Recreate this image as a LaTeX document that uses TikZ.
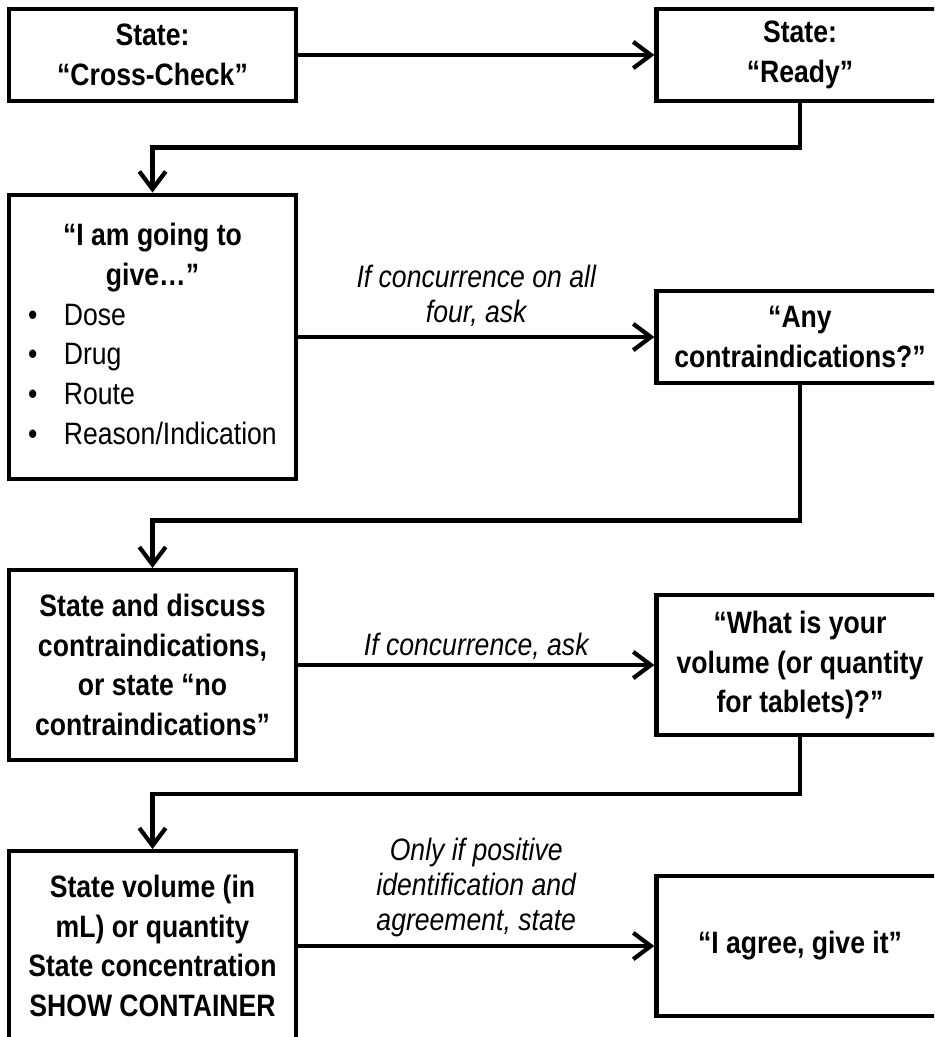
\documentclass[tikz,border=0pt]{standalone}
\usepackage{fontspec}
\setmainfont[FakeStretch=0.86]{Liberation Sans}
\usetikzlibrary{arrows.meta}

\begin{document}
\begin{tikzpicture}[x=0.02cm, y=-0.02cm,
    box/.style={draw, line width=2.5pt, minimum width=5.74cm, inner sep=2pt,
                align=center, font=\fontsize{17.6}{22.6}\selectfont\bfseries},
    arr/.style={-{Straight Barb[length=10pt,width=15pt]}, line width=2.4pt},
    lbl/.style={align=center, inner sep=2pt,
                font=\fontsize{17.6}{19.8}\selectfont\itshape}
  ]
  \clip (0,0) rectangle (934,1037);
  % left column
  \node[box, minimum height=1.85cm] (cross) at (152.5,55) {State:\\“Cross-Check”};
  \node[box, minimum height=5.69cm] (give) at (152.5,337) {%
    \begin{tabular}{@{}c@{\hspace{15pt}}l@{}}
      \multicolumn{2}{c}{“I am going to}\\
      \multicolumn{2}{c}{give…”}\\
      \mdseries\textbullet & \mdseries Dose\\
      \mdseries\textbullet & \mdseries Drug\\
      \mdseries\textbullet & \mdseries Route\\
      \mdseries\textbullet & \mdseries Reason/Indication
    \end{tabular}};
  \node[box, minimum height=3.79cm] (discuss) at (152.5,665)
    {State and discuss\\contraindications,\\or state “no\\contraindications”};
  \node[box, minimum height=3.79cm] (show) at (152.5,946)
    {State volume (in\\mL) or quantity\\State concentration\\SHOW CONTAINER};
  % right column
  \node[box, minimum height=1.85cm] (ready) at (800,55) {State:\\“Ready”};
  \node[box, minimum height=1.85cm] (any) at (800,337) {“Any\\contraindications?”};
  \node[box, minimum height=2.79cm] (volume) at (800,665)
    {“What is your\\volume (or quantity\\for tablets)?”};
  \node[box, minimum height=2.79cm] (agree) at (800,946) {“I agree, give it”};
  % across
  \draw[arr] (cross) -- (ready);
  \draw[arr] (give) -- node[lbl, above, yshift=3pt] {If concurrence on all\\four, ask} (any);
  \draw[arr] (discuss) -- node[lbl, above] {If concurrence, ask} (volume);
  \draw[arr] (show) -- node[lbl, above, yshift=2pt]
    {Only if positive\\identification and\\agreement, state} (agree);
  % back to the left
  \draw[arr] (ready.south) -- ++(0,44) -| (give.north);
  \draw[arr] (any.south) -- ++(0,135) -| (discuss.north);
  \draw[arr] (volume.south) -- ++(0,57) -| (show.north);
\end{tikzpicture}
\end{document}
